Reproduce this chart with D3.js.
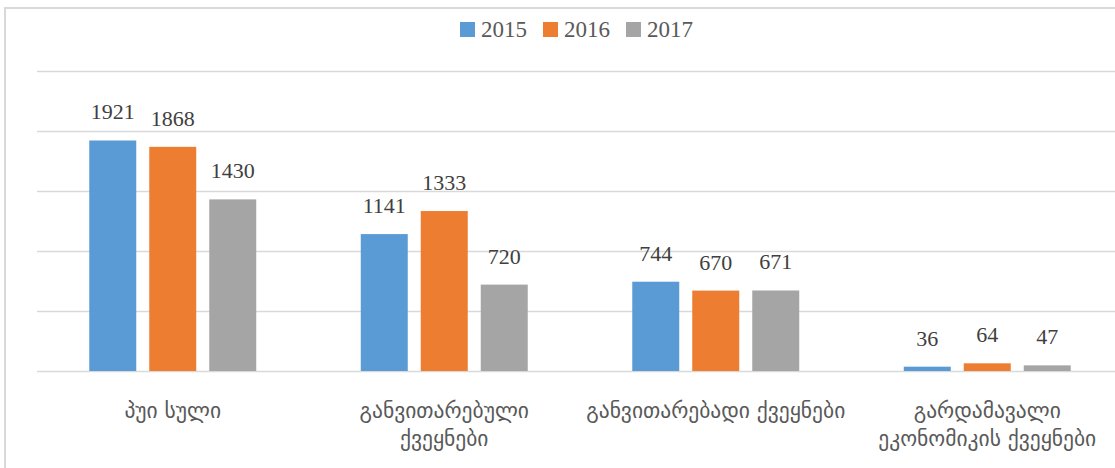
<!DOCTYPE html>
<html>
<head>
<meta charset="utf-8">
<script src="https://cdn.jsdelivr.net/npm/d3@7"></script>
<style>
  body { margin: 0; background: #fff; overflow: hidden; }
  .serif { font-family: "Liberation Serif", "DejaVu Serif", "Times New Roman", Times, serif; }
  .geo { font-family: "DejaVu Sans", "Noto Sans", sans-serif; }
</style>
</head>
<body>
<div id="chart"></div>
<script>
var categories = [
    ["პუი სული"],
    ["განვითარებული", "ქვეყნები"],
    ["განვითარებადი ქვეყნები"],
    ["გარდამავალი", "ეკონომიკის ქვეყნები"]
];
var years = ["2015", "2016", "2017"];
var values2015 = [1921, 1141, 744, 36];
var values2016 = [1868, 1333, 670, 64];
var values2017 = [1430, 720, 671, 47];
var yTicks = [0, 500, 1000, 1500, 2000, 2500];
var colors = ["#5b9bd5", "#ed7d31", "#a5a5a5"];

var series = [values2015, values2016, values2017];

var width = 1115, height = 468;

var svg = d3.select("#chart")
    .append("svg")
    .attr("width", width)
    .attr("height", height);

// chart frame (runs past the right edge, like the cropped original)
svg.append("rect")
    .attr("x", 5).attr("y", 8)
    .attr("width", 1150).attr("height", 480)
    .attr("fill", "none")
    .attr("stroke", "#d9d9d9")
    .attr("stroke-width", 2);

var x0 = d3.scaleBand()
    .domain(d3.range(categories.length))
    .range([37, 1123]);

var x1 = d3.scaleBand()
    .domain(years)
    .range([0, x0.bandwidth()])
    .paddingInner(13 / 60)
    .paddingOuter(0.871);

var y = d3.scaleLinear()
    .domain([0, 2500])
    .range([371, 71]);

// gridlines
var yAxis = d3.axisLeft(y)
    .tickValues(yTicks)
    .tickSize(-(1123 - 37))
    .tickFormat("");

var gy = svg.append("g")
    .attr("transform", "translate(37,0)")
    .call(yAxis);
gy.select(".domain").remove();
gy.selectAll(".tick line")
    .attr("stroke", "#d9d9d9")
    .attr("stroke-width", 1.5);

// bars + value labels
var groups = svg.selectAll(".group")
    .data(categories)
    .enter().append("g")
    .attr("class", "group")
    .attr("transform", function(d, i) { return "translate(" + x0(i) + ",0)"; });

groups.each(function(d, i) {
    var g = d3.select(this);
    years.forEach(function(yr, s) {
        var v = series[s][i];
        g.append("rect")
            .attr("x", x1(yr))
            .attr("y", y(v))
            .attr("width", x1.bandwidth())
            .attr("height", y(0) - y(v))
            .attr("fill", colors[s]);
        g.append("text")
            .attr("class", "serif")
            .attr("x", x1(yr) + x1.bandwidth() / 2)
            .attr("y", y(v) - 21)
            .attr("text-anchor", "middle")
            .attr("font-size", 22)
            .attr("fill", "#404040")
            .text(v);
    });
});

// category labels
var xAxis = svg.append("g");
categories.forEach(function(lines, i) {
    var cx = x0(i) + x0.bandwidth() / 2;
    var t = xAxis.append("text")
        .attr("class", "geo")
        .attr("x", cx)
        .attr("y", 418)
        .attr("text-anchor", "middle")
        .attr("font-size", 21.5)
        .attr("fill", "#595959");
    lines.forEach(function(line, k) {
        t.append("tspan")
            .attr("x", cx)
            .attr("dy", k === 0 ? 0 : 28)
            .text(line);
    });
});

// legend
var legend = svg.append("g").attr("transform", "translate(460,22)");
var lx = 0;
years.forEach(function(yr, s) {
    var item = legend.append("g").attr("transform", "translate(" + lx + ",0)");
    item.append("rect")
        .attr("width", 15).attr("height", 15)
        .attr("fill", colors[s]);
    var txt = item.append("text")
        .attr("class", "serif")
        .attr("x", 21)
        .attr("y", 15)
        .attr("font-size", 23)
        .attr("fill", "#595959")
        .text(yr);
    lx += 21 + txt.node().getComputedTextLength() + 16;
});
</script>
</body>
</html>
